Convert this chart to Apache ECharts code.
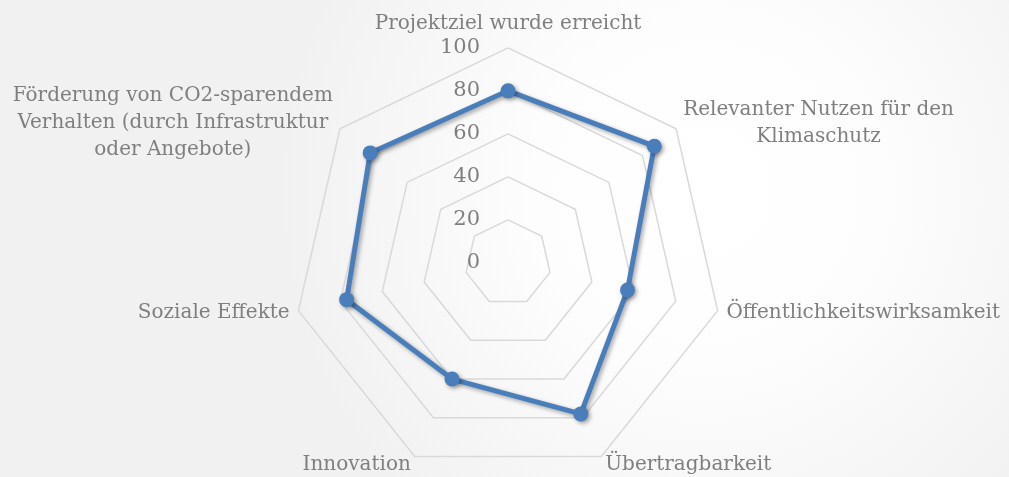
<!DOCTYPE html>
<html>
<head>
<meta charset="utf-8">
<script src="https://cdn.jsdelivr.net/npm/echarts@6/dist/echarts.min.js"></script>
<style>
  html, body { margin: 0; padding: 0; }
  #chart { width: 1009px; height: 477px; }
</style>
</head>
<body>
<div id="chart"></div>
<script>
// Achsen im Uhrzeigersinn, oben beginnend
const categories = [
  'Projektziel wurde erreicht',
  'Relevanter Nutzen für den\nKlimaschutz',
  'Öffentlichkeitswirksamkeit',
  'Übertragbarkeit',
  'Innovation',
  'Soziale Effekte',
  'Förderung von CO2-sparendem\nVerhalten (durch Infrastruktur\noder Angebote)'
]
const values = [80, 87, 57, 78, 60, 77, 82]
const maxValue = 100

// echarts zeichnet das Netz gegen den Uhrzeigersinn -> Reihenfolge umdrehen (erste Achse bleibt oben)
const order = [0].concat(categories.map((c, i) => i).slice(1).reverse())

const chart = echarts.init(document.getElementById('chart'))

const option = {
  backgroundColor: new echarts.graphic.RadialGradient(0.7, 0.4, 0.9, [
    { offset: 0, color: '#ffffff' },
    { offset: 0.4, color: '#fdfdfd' },
    { offset: 1, color: '#f1f1f1' }
  ]),
  textStyle: { fontFamily: 'DejaVu Serif' },
  radar: {
    center: ['50.35%', '55.1%'],
    radius: 215,
    startAngle: 90,
    splitNumber: 5,
    shape: 'polygon',
    indicator: order.map(i => {
      const ind = { name: categories[i], min: 0, max: maxValue }
      if (i === 0) {
        // nur die erste Achse bekommt Beschriftung
        ind.axisLabel = { show: true }
        ind.nameTextStyle = { verticalAlign: 'bottom' }
      }
      return ind
    }),
    axisName: {
      color: '#7f7f7f',
      fontSize: 20,
      fontFamily: 'DejaVu Serif',
      lineHeight: 27,
      verticalAlign: 'middle',
      formatter: function (name) {
        return name.split('\n').map(l => '{c|' + l + '}').join('\n')
      },
      rich: {
        c: {
          align: 'center',
          color: '#7f7f7f',
          fontSize: 20,
          fontFamily: 'DejaVu Serif',
          lineHeight: 27
        }
      }
    },
    nameGap: 9,
    axisLine: { show: false },
    axisTick: { show: false },
    axisLabel: {
      show: false,
      color: '#7f7f7f',
      fontSize: 21,
      fontFamily: 'DejaVu Serif',
      margin: 28,
      padding: [7, 0, 0, 0]
    },
    splitLine: {
      lineStyle: { color: '#d9d9d9', width: 1.5 }
    },
    splitArea: { show: false }
  },
  series: [{
    type: 'radar',
    symbol: 'circle',
    symbolSize: 15,
    lineStyle: {
      color: '#4a7ebb',
      width: 5,
      shadowColor: 'rgba(0,0,0,0.35)',
      shadowBlur: 4,
      shadowOffsetX: 2,
      shadowOffsetY: 2
    },
    itemStyle: {
      color: '#4a7ebb',
      shadowColor: 'rgba(0,0,0,0.35)',
      shadowBlur: 4,
      shadowOffsetX: 2,
      shadowOffsetY: 2
    },
    data: [{ value: order.map(i => values[i]), name: 'Bewertung' }]
  }]
}

chart.setOption(option)
</script>
</body>
</html>
